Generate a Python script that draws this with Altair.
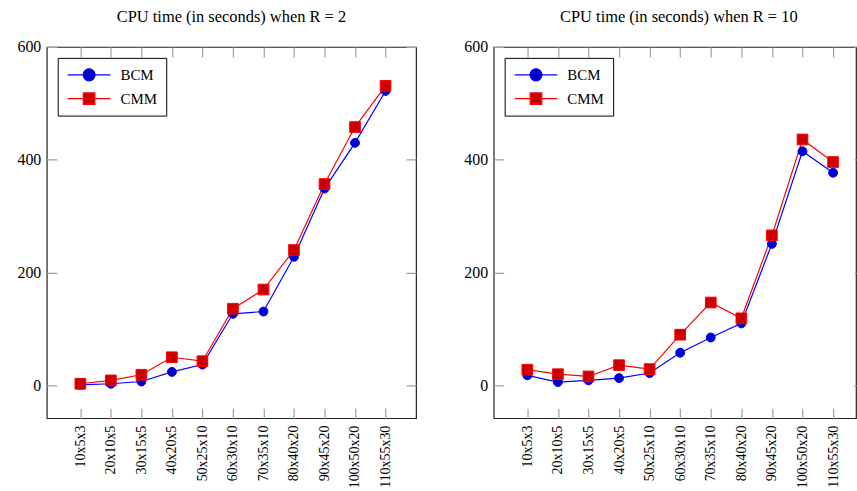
import json
import altair as alt
import pandas as pd

categories = ["10x5x3", "20x10x5", "30x15x5", "40x20x5", "50x25x10", "60x30x10",
              "70x35x10", "80x40x20", "90x45x20", "100x50x20", "110x55x30"]
series_names = ["BCM", "CMM"]
r2_bcm = [1, 3, 7, 24, 37, 127, 131, 228, 349, 430, 522]
r2_cmm = [3, 9, 19, 50, 43, 136, 170, 240, 357, 458, 531]
r10_bcm = [18, 6, 9, 13, 22, 58, 85, 110, 251, 415, 377]
r10_cmm = [28, 20, 16, 36, 29, 90, 147, 119, 266, 436, 396]
y_ticks = [0, 200, 400, 600]

FONT = "Liberation Serif"
H = 373

BCM_PATH = ("M-1,0L-0.28,0M0.28,0L1,0"
            "M-0.28,0A0.28,0.28,0,1,0,0.28,0A0.28,0.28,0,1,0,-0.28,0Z")
CMM_PATH = "M-1,0L-0.27,0M0.27,0L1,0M-0.27,-0.27L0.27,-0.27L0.27,0.27L-0.27,0.27Z"


def frame(bcm, cmm):
    rows = []
    for name, vals in zip(series_names, [bcm, cmm]):
        for i, v in enumerate(vals):
            rows.append({"idx": i, "cat": categories[i], "series": name, "value": v})
    return pd.DataFrame(rows)


def panel(bcm, cmm, title, width, xmax, dx, full_w):
    df = frame(bcm, cmm)
    legend = alt.Legend(
        title=None, orient="top-left", offset=11, padding=9,
        strokeColor="black", fillColor="white",
        symbolSize=1849, clipHeight=16, rowPadding=8, symbolStrokeWidth=1.2,
        labelFont=FONT, labelFontSize=15, labelColor="black", labelOffset=9,
        labelExpr="datum.label + '\u00a0\u00a0'",
    )
    label_expr = json.dumps(categories) + "[datum.value]"
    base = alt.Chart(df).encode(
        x=alt.X("idx:Q",
                scale=alt.Scale(domain=[-1.1, xmax], nice=False, zero=False),
                axis=alt.Axis(values=list(range(len(categories))), labelExpr=label_expr,
                              labelAngle=-90, labelPadding=7, ticks=False, domain=False,
                              labelFont=FONT, labelFontSize=14, labelColor="black",
                              grid=True, gridColor="#a0a0a0", gridWidth=1.2,
                              gridDash=[10, H - 20, 10, 2000], title=None)),
        y=alt.Y("value:Q",
                scale=alt.Scale(domain=[-58, 600], nice=False, zero=False),
                axis=alt.Axis(values=y_ticks, ticks=False, domain=False, labelPadding=6,
                              labelFont=FONT, labelFontSize=16, labelColor="black",
                              minExtent=46, maxExtent=46,
                              grid=True, gridColor="#a0a0a0", gridWidth=1.2,
                              gridDash=[10, full_w - 20, 10, 2000], title=None)),
    )
    stroke = alt.Stroke("series:N", scale=alt.Scale(domain=series_names,
                                                   range=["#0000ff", "#ff0000"]), legend=legend)
    fill = alt.Fill("series:N", scale=alt.Scale(domain=series_names,
                                               range=["#0000cc", "#cc0000"]), legend=legend)
    line = base.mark_line(strokeWidth=1.2).encode(stroke=stroke)
    circles = base.mark_point(filled=True, strokeWidth=1, opacity=1, shape="circle",
                              size=80).encode(stroke=stroke, fill=fill).transform_filter(
        alt.datum.series == "BCM")
    squares = base.mark_point(filled=True, strokeWidth=1, opacity=1, shape="square",
                              size=115).encode(stroke=stroke, fill=fill).transform_filter(
        alt.datum.series == "CMM")
    # legend-only layer: drawn outside the plot and clipped, supplies the legend glyphs
    legend_layer = base.mark_point(filled=True, strokeWidth=1.2, opacity=1, clip=True).encode(
        y=alt.Y("hidden:Q"),
        stroke=stroke, fill=fill,
        shape=alt.Shape("series:N", scale=alt.Scale(domain=series_names,
                                                   range=[BCM_PATH, CMM_PATH]), legend=legend),
    ).transform_calculate(hidden="-5000")
    return alt.layer(line, circles, squares, legend_layer).properties(
        width=width, height=H,
        title=alt.TitleParams(text=title, font=FONT, fontSize=16.5, fontWeight="normal",
                              color="black", offset=14, dx=dx),
    )


left = panel(r2_bcm, r2_cmm, "CPU time (in seconds) when R = 2", 371, 11, 0, 371)
right = panel(r10_bcm, r10_cmm, "CPU time (in seconds) when R = 10", 364, 10.75, 4, 372)

chart = alt.hconcat(left, right, spacing=30).resolve_scale(
    stroke="independent", fill="independent", shape="independent"
).properties(
    padding={"left": 0, "top": 6, "right": 0, "bottom": 0},
    background="white",
).configure(font=FONT).configure_view(stroke="#222", strokeWidth=1.2)

chart.save("out.html", embed_options={"renderer": "svg", "actions": False})
